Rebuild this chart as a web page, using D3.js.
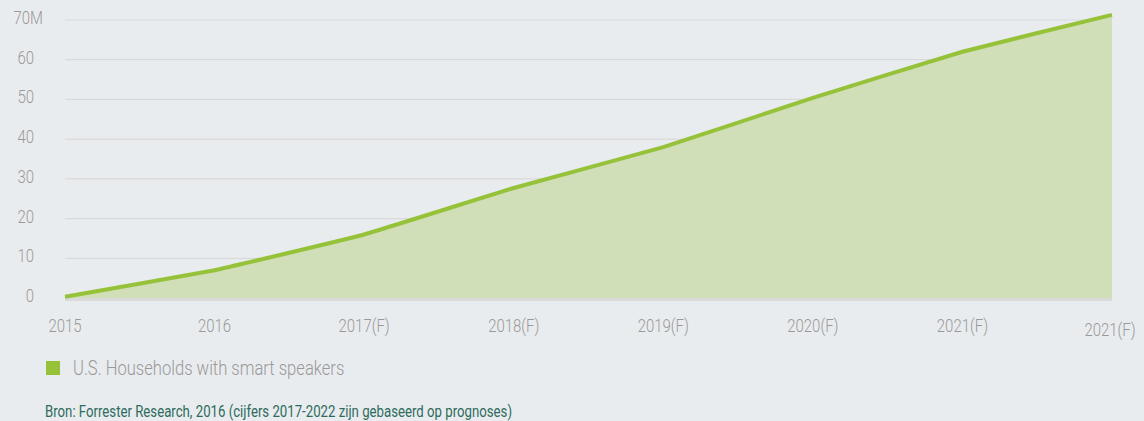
<!DOCTYPE html>
<html>
<head>
<meta charset="utf-8">
<script src="https://cdn.jsdelivr.net/npm/d3@7"></script>
<style>
  html, body { margin: 0; padding: 0; background: #e9ecef; }
  svg text { font-family: "Roboto", sans-serif; }
</style>
</head>
<body>
<div class="chart_area"></div>
<script>
// data
var years = ["2015", "2016", "2017(F)", "2018(F)", "2019(F)", "2020(F)", "2021(F)", "2021(F)"];
var households = [0.3, 7, 16, 27.7, 38, 50.4, 62, 71.3];
var yTicks = [0, 10, 20, 30, 40, 50, 60, 70];
var seriesName = "U.S. Households with smart speakers";
var sourceText = "Bron: Forrester Research, 2016 (cijfers 2017-2022 zijn gebaseerd op prognoses)";

var width = 1144, height = 421;
var margin = { top: 20, right: 32, bottom: 123, left: 65 };
var narrow = 0.83; // fake condensed font

var svg = d3.select(".chart_area").append("svg")
    .attr("width", width)
    .attr("height", height);

svg.append("rect")
    .attr("width", width)
    .attr("height", height)
    .attr("fill", "#e9ecef");

var x = d3.scalePoint()
    .domain(d3.range(years.length))
    .range([margin.left, width - margin.right]);

var y = d3.scaleLinear()
    .domain([0, 70])
    .range([height - margin.bottom, margin.top]);

// text squeezed horizontally around its anchor
function addText(parent, px, py, txt, size, anchor, color, weight, sx) {
    return parent.append("text")
        .attr("transform", "translate(" + px + "," + py + ") scale(" + sx + ",1)")
        .attr("text-anchor", anchor)
        .attr("fill", color)
        .style("font-size", size + "px")
        .style("font-weight", weight)
        .text(txt);
}

// grid lines
svg.append("g").selectAll("line")
    .data(yTicks.filter(t => t > 0))
    .enter().append("line")
    .attr("x1", margin.left)
    .attr("x2", width - margin.right)
    .attr("y1", d => y(d))
    .attr("y2", d => y(d))
    .attr("stroke", "#d9d9d9")
    .attr("stroke-width", 1.2);

// y labels
var yLab = svg.append("g");
yTicks.forEach(t => {
    addText(yLab, t == 70 ? 43 : 34, y(t) + 4, t == 70 ? t + "M" : t, 18, "end", "#999", 300, narrow);
});

var area = d3.area()
    .x((d, i) => x(i))
    .y0(y(0))
    .y1(d => y(d))
    .curve(d3.curveCardinal.tension(0.7));

var line = d3.line()
    .x((d, i) => x(i))
    .y(d => y(d))
    .curve(d3.curveCardinal.tension(0.7));

svg.append("path")
    .datum(households)
    .attr("d", area)
    .attr("fill", "#d1dfb9");

// baseline
svg.append("line")
    .attr("x1", margin.left)
    .attr("x2", width - margin.right)
    .attr("y1", y(0) + 1.5)
    .attr("y2", y(0) + 1.5)
    .attr("stroke", "#dadada")
    .attr("stroke-width", 3);

svg.append("path")
    .datum(households)
    .attr("d", line)
    .attr("fill", "none")
    .attr("stroke", "#96c23a")
    .attr("stroke-width", 4);

// x labels
var xLab = svg.append("g");
years.forEach((d, i) => {
    var last = i == years.length - 1;
    addText(xLab, last ? x(i) - 2 : x(i), last ? 336 : 332, d, 18, "middle", "#999", 300, narrow);
});

// legend
svg.append("rect")
    .attr("x", 46)
    .attr("y", 361)
    .attr("width", 14)
    .attr("height", 14)
    .attr("fill", "#96c23a");

addText(svg, 73, 375, seriesName, 20, "start", "#999", 300, narrow);

// source
addText(svg, 45, 417, sourceText, 16.5, "start", "#2d6b5c", 400, 0.8);
</script>
</body>
</html>
